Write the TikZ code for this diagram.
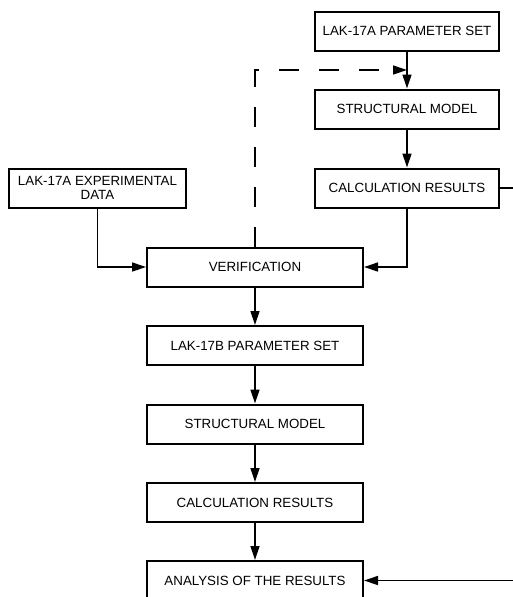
\documentclass[tikz,border=0pt]{standalone}
\usepackage{fontspec}
\setmainfont{Liberation Sans}
\usetikzlibrary{arrows.meta,calc}
\begin{document}
\begin{tikzpicture}[x=0.75pt,y=-0.75pt,
  box/.style={draw,line width=1.5pt,rectangle,inner sep=0pt,minimum height=29.25pt,font=\fontsize{10pt}{11pt}\selectfont,align=center},
  topbox/.style={box,minimum width=138pt},
  lowbox/.style={box,minimum width=162pt},
  conn/.style={line width=1pt,-{Triangle[length=10.5pt,width=6.75pt]}},
  plain/.style={line width=1pt},
  dashconn/.style={conn,dash pattern=on 15pt off 15pt}]
\useasboundingbox (0,0) rectangle (513,597);
\clip (0,0) rectangle (513,597);
\node[topbox] (p1) at (407,31) {LAK-17A PARAMETER SET};
\node[topbox] (s1) at (407,109) {STRUCTURAL MODEL};
\node[topbox] (c1) at (407,188) {CALCULATION RESULTS};
\node[box,minimum width=132.75pt] (e) at (97.5,188) {LAK-17A EXPERIMENTAL\\DATA};
\node[lowbox] (v) at (255,267) {VERIFICATION};
\node[lowbox] (p2) at (255,345.5) {LAK-17B PARAMETER SET};
\node[lowbox] (s2) at (255,424) {STRUCTURAL MODEL};
\node[lowbox] (c2) at (255,502.5) {CALCULATION RESULTS};
\node[lowbox] (a) at (255,580.5) {ANALYSIS OF THE RESULTS};
\coordinate (r1) at (513,188);
\coordinate (r2) at (513,580.5);
\coordinate (mid) at ($(p1.south)!0.5!(s1.north)$);
\draw[conn] (p1) -- (s1);
\draw[conn] (s1) -- (c1);
\draw[conn] (c1.south) |- (v.east);
\draw[conn] (e.south) |- (v.west);
\draw[conn] (v) -- (p2);
\draw[conn] (p2) -- (s2);
\draw[conn] (s2) -- (c2);
\draw[conn] (c2) -- (a);
\draw[plain] (c1.east) -- (r1);
\draw[conn] (r2) -- (a.east);
\draw[dashconn] (v.north) |- (mid);
\end{tikzpicture}
\end{document}
